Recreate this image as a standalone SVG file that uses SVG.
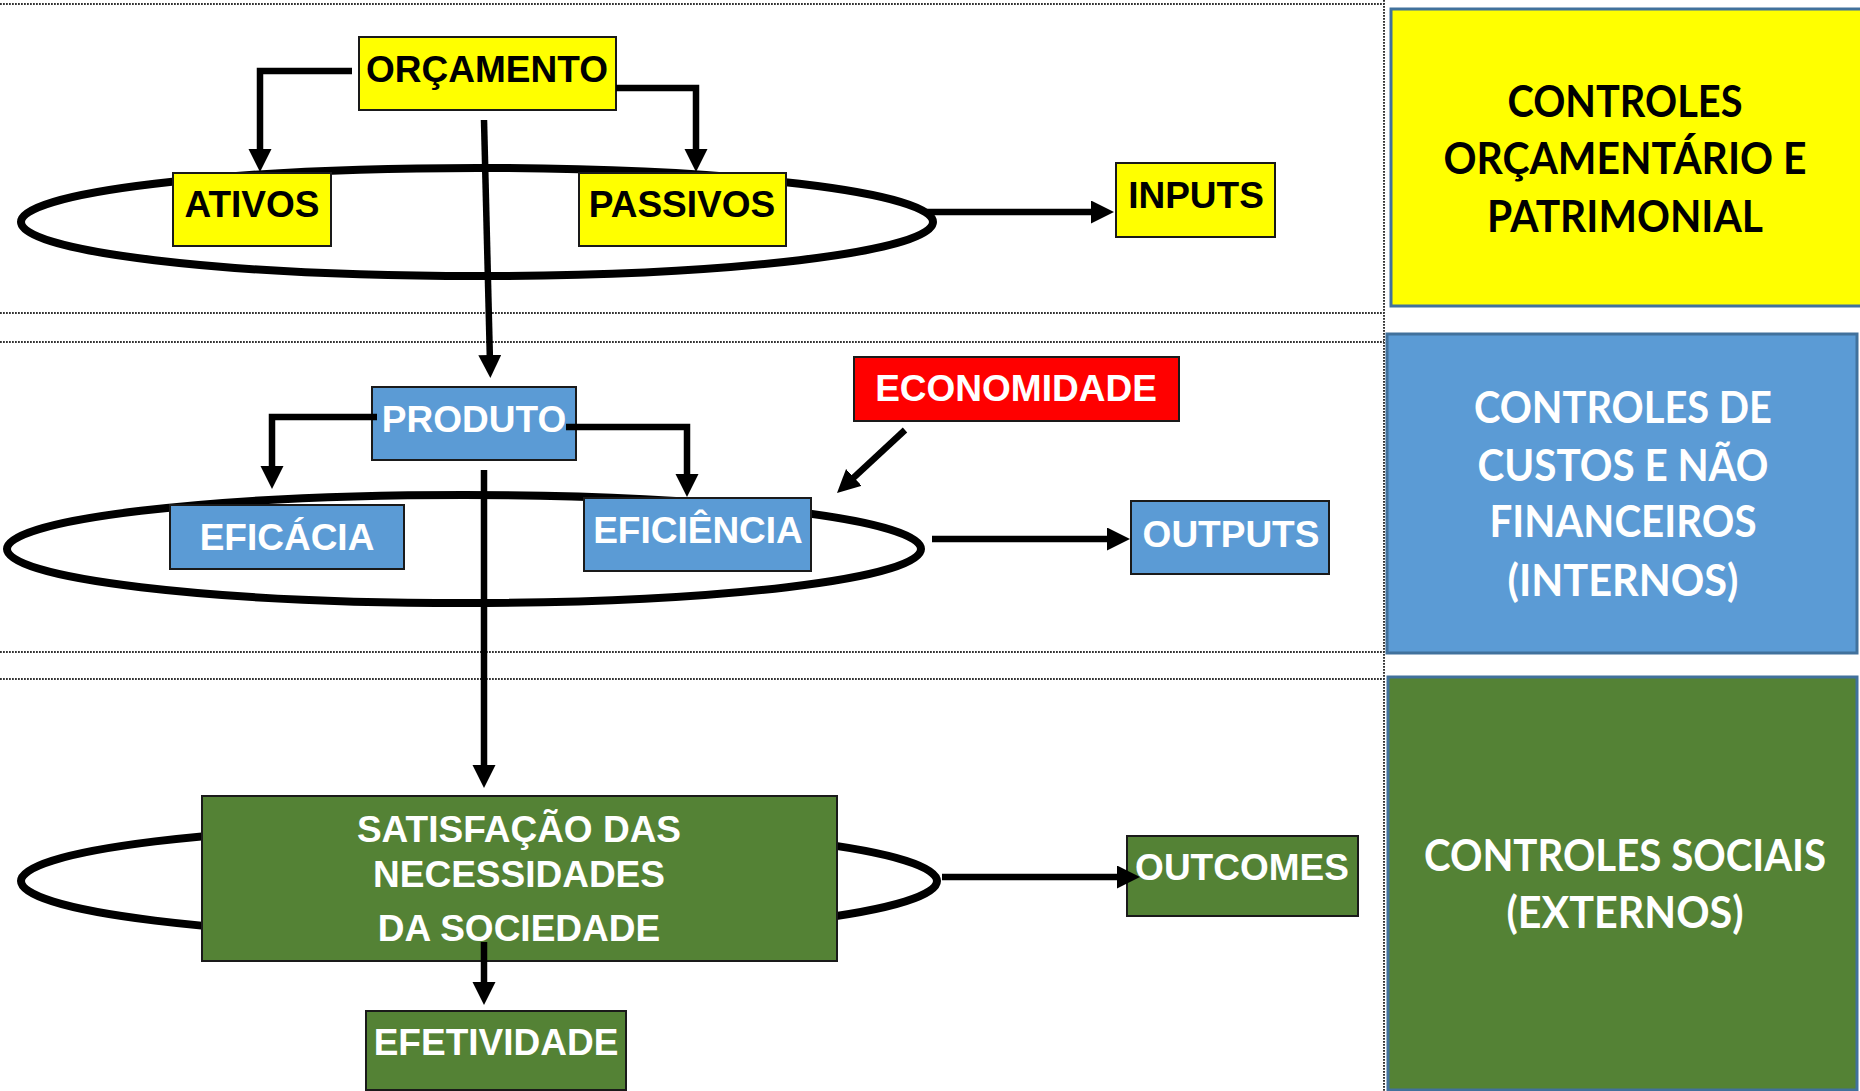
<svg xmlns="http://www.w3.org/2000/svg" width="1860" height="1091" viewBox="0 0 1860 1091">
<style>
.lbl{font-family:"Liberation Sans",Arial,sans-serif;font-weight:bold;font-size:37px;text-anchor:middle}
.blk{fill:#000}
.wht{fill:#fff}
.pan{font-family:Lato,"Liberation Sans",sans-serif;font-weight:bold;font-size:43px;text-anchor:middle}
.box{stroke:#1a1a1a;stroke-width:2}
.panel{stroke:#41719C;stroke-width:3}
.dot{stroke:#333;stroke-width:2;stroke-dasharray:1.8 1.2;fill:none}
.ell{fill:none;stroke:#000;stroke-width:8}
.con{fill:none;stroke:#000;stroke-width:6.5;marker-end:url(#arr)}
</style>
<defs>
<marker id="arr" markerUnits="userSpaceOnUse" markerWidth="24" markerHeight="24" refX="8" refY="11.5" orient="auto" viewBox="0 0 24 24">
<path d="M0,0 L23,11.5 L0,23 z" fill="#000"/>
</marker>
</defs>
<rect width="1860" height="1091" fill="#fff"/>
<g id="guides">
<line class="dot" x1="0" y1="4" x2="1384" y2="4"/>
<line class="dot" x1="0" y1="313" x2="1384" y2="313"/>
<line class="dot" x1="0" y1="342" x2="1384" y2="342"/>
<line class="dot" x1="0" y1="652" x2="1384" y2="652"/>
<line class="dot" x1="0" y1="679" x2="1384" y2="679"/>
<line class="dot" x1="1384" y1="0" x2="1384" y2="1091"/>
</g>
<g id="ellipses">
<ellipse class="ell" cx="477" cy="222" rx="456" ry="54"/>
<ellipse class="ell" cx="464" cy="549" rx="457" ry="54"/>
<ellipse class="ell" cx="479" cy="881" rx="458" ry="56"/>
</g>
<g id="panel-orcamentario">
<rect class="panel" x="1391" y="9" width="475" height="297" fill="#FFFF00"/>
<text class="pan blk" x="1625" y="117" textLength="235" lengthAdjust="spacingAndGlyphs">CONTROLES</text>
<text class="pan blk" x="1625" y="174" textLength="363" lengthAdjust="spacingAndGlyphs">ORÇAMENTÁRIO E</text>
<text class="pan blk" x="1625" y="232" textLength="276" lengthAdjust="spacingAndGlyphs">PATRIMONIAL</text>
</g>
<g id="panel-custos">
<rect class="panel" x="1387" y="334" width="470" height="319" fill="#5B9BD5"/>
<text class="pan wht" x="1623" y="423" textLength="298" lengthAdjust="spacingAndGlyphs">CONTROLES DE</text>
<text class="pan wht" x="1623" y="481" textLength="291" lengthAdjust="spacingAndGlyphs">CUSTOS E NÃO</text>
<text class="pan wht" x="1623" y="537" textLength="267" lengthAdjust="spacingAndGlyphs">FINANCEIROS</text>
<text class="pan wht" x="1623" y="596" textLength="231" lengthAdjust="spacingAndGlyphs">(INTERNOS)</text>
</g>
<g id="panel-sociais">
<rect class="panel" x="1388" y="677" width="469" height="413" fill="#548235"/>
<text class="pan wht" x="1625" y="871" textLength="402" lengthAdjust="spacingAndGlyphs">CONTROLES SOCIAIS</text>
<text class="pan wht" x="1625" y="928" textLength="237" lengthAdjust="spacingAndGlyphs">(EXTERNOS)</text>
</g>
<g id="orcamento">
<rect class="box" x="359" y="37" width="257" height="73" fill="#FFFF00"/>
<text class="lbl blk" x="487" y="82">ORÇAMENTO</text>
</g>
<g id="ativos">
<rect class="box" x="173" y="173" width="158" height="73" fill="#FFFF00"/>
<text class="lbl blk" x="252" y="217">ATIVOS</text>
</g>
<g id="passivos">
<rect class="box" x="579" y="173" width="207" height="73" fill="#FFFF00"/>
<text class="lbl blk" x="682" y="217">PASSIVOS</text>
</g>
<g id="inputs">
<rect class="box" x="1116" y="163" width="159" height="74" fill="#FFFF00"/>
<text class="lbl blk" x="1196" y="208">INPUTS</text>
</g>
<g id="produto">
<rect class="box" x="372" y="387" width="204" height="73" fill="#5B9BD5"/>
<text class="lbl wht" x="474" y="432">PRODUTO</text>
</g>
<g id="eficacia">
<rect class="box" x="170" y="505" width="234" height="64" fill="#5B9BD5"/>
<text class="lbl wht" x="287" y="550">EFICÁCIA</text>
</g>
<g id="eficiencia">
<rect class="box" x="584" y="498" width="227" height="73" fill="#5B9BD5"/>
<text class="lbl wht" x="698" y="543">EFICIÊNCIA</text>
</g>
<g id="economidade">
<rect class="box" x="854" y="357" width="325" height="64" fill="#FF0000"/>
<text class="lbl wht" x="1016" y="401">ECONOMIDADE</text>
</g>
<g id="outputs">
<rect class="box" x="1131" y="501" width="198" height="73" fill="#5B9BD5"/>
<text class="lbl wht" x="1231" y="547">OUTPUTS</text>
</g>
<g id="satisfacao">
<rect class="box" x="202" y="796" width="635" height="165" fill="#548235"/>
<text class="lbl wht" x="519" y="842">SATISFAÇÃO DAS</text>
<text class="lbl wht" x="519" y="887">NECESSIDADES</text>
<text class="lbl wht" x="519" y="941">DA SOCIEDADE</text>
</g>
<g id="outcomes">
<rect class="box" x="1127" y="836" width="231" height="80" fill="#548235"/>
<text class="lbl wht" x="1242" y="880">OUTCOMES</text>
</g>
<g id="efetividade">
<rect class="box" x="366" y="1011" width="260" height="79" fill="#548235"/>
<text class="lbl wht" x="496" y="1055">EFETIVIDADE</text>
</g>
<g id="connectors">
<path class="con" d="M352,71 H260 V157"/>
<path class="con" d="M616,88 H696 V157"/>
<path class="con" d="M484,120 L490,363"/>
<path class="con" d="M925,212 H1099"/>
<path class="con" d="M377,417 H272 V474"/>
<path class="con" d="M566,427 H687 V482"/>
<path class="con" d="M905,430 L848,482.8"/>
<path class="con" d="M932,539 H1115"/>
<path class="con" d="M484,470 V773"/>
<path class="con" d="M942,877 H1125"/>
<path class="con" d="M484,942 V990"/>
</g>
</svg>
